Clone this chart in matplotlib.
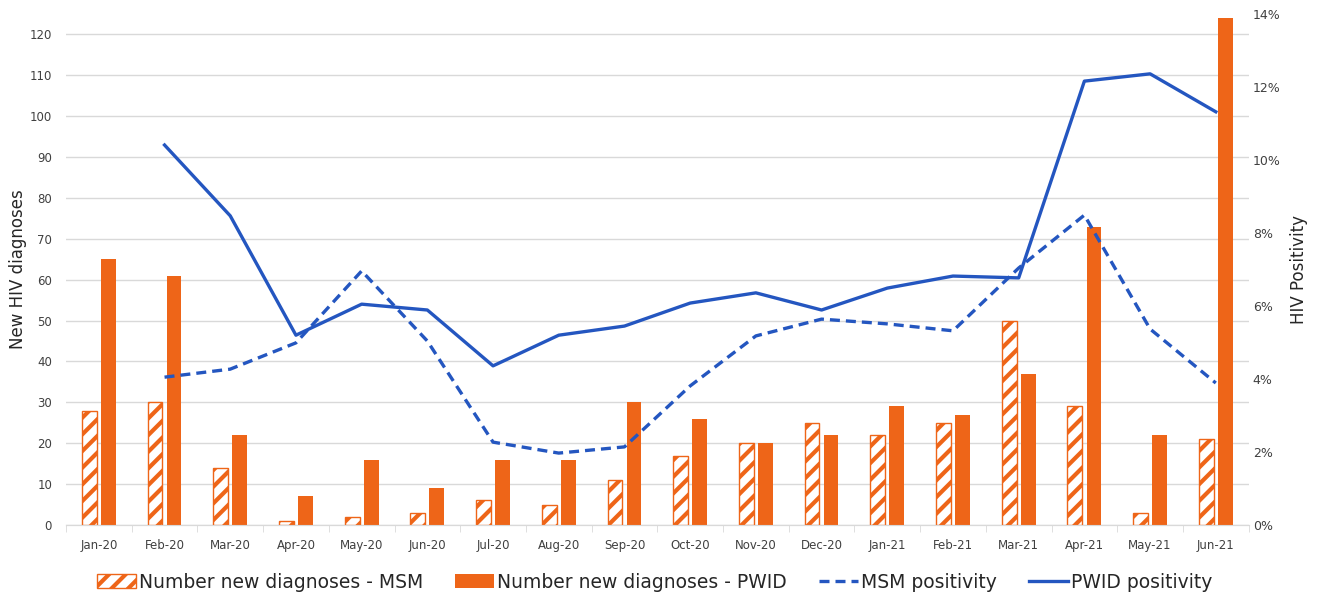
import matplotlib
matplotlib.use("Agg")
import matplotlib.pyplot as plt
import numpy as np
from matplotlib.ticker import FuncFormatter

months = ["Jan-20", "Feb-20", "Mar-20", "Apr-20", "May-20", "Jun-20", "Jul-20", "Aug-20", "Sep-20",
          "Oct-20", "Nov-20", "Dec-20", "Jan-21", "Feb-21", "Mar-21", "Apr-21", "May-21", "Jun-21"]
msm_new = [28, 30, 14, 1, 2, 3, 6, 5, 11, 17, 20, 25, 22, 25, 50, 29, 3, 21]
pwid_new = [65, 61, 22, 7, 16, 9, 16, 16, 30, 26, 20, 22, 29, 27, 37, 73, 22, 124]
msm_pos = [np.nan, 4.05, 4.27, 4.99, 6.96, 5.04, 2.27, 1.97, 2.14, 3.81, 5.18, 5.64, 5.51, 5.32, 7.04, 8.49, 5.37, 3.89]
pwid_pos = [np.nan, 10.41, 8.47, 5.20, 6.05, 5.89, 4.36, 5.20, 5.45, 6.08, 6.36, 5.89, 6.49, 6.82, 6.77, 12.16, 12.36, 11.32]

ORANGE = "#EE6518"
BLUE = "#2456C0"
GRID = "#D9D9D9"
TXT = "#404040"

plt.rcParams['hatch.linewidth'] = 3.0
plt.rcParams['hatch.color'] = ORANGE

fig = plt.figure(figsize=(13.17, 5.97), dpi=100)
ax = fig.add_axes([0.0501, 0.1206, 0.898, 0.856])
ax2 = ax.twinx()

x = np.arange(len(months))
w = 0.225
off = 0.145
ax.bar(x - off, msm_new, width=w, facecolor="white", edgecolor=ORANGE, hatch="//", linewidth=1.0,
       label="Number new diagnoses - MSM", zorder=3)
ax.bar(x + off, pwid_new, width=w, color=ORANGE, label="Number new diagnoses - PWID", zorder=3)

ax2.plot(x, msm_pos, color=BLUE, lw=2.4, ls=(0, (3.0, 1.8)), label="MSM positivity")
ax2.plot(x, pwid_pos, color=BLUE, lw=2.4, label="PWID positivity")

ax.set_xlim(-0.5, len(months) - 0.5)
ax.set_ylim(0, 125)
ax.set_yticks(np.arange(0, 121, 10))
ax2.set_ylim(0, 14)
ax2.set_yticks(np.arange(0, 15, 2))
ax2.yaxis.set_major_formatter(FuncFormatter(lambda v, p: f"{v:.0f}%"))

ax.grid(axis="y", color=GRID, lw=1.0, zorder=0)
ax.set_axisbelow(True)

ax.set_xticks(x)
ax.set_xticklabels(months)
ax.set_xticks(np.arange(-0.5, len(months), 1), minor=True)
ax.tick_params(axis="x", which="major", length=0, pad=10, labelsize=8.5, labelcolor=TXT)
ax.tick_params(axis="x", which="minor", length=5, color=GRID)
ax.tick_params(axis="y", length=0, pad=10, labelsize=8.5, labelcolor=TXT)
ax2.tick_params(axis="y", length=0, pad=3, labelsize=9, labelcolor=TXT)

for a in (ax, ax2):
    for s in ("top", "left", "right"):
        a.spines[s].set_visible(False)
    a.spines["bottom"].set_color(GRID)

ax.set_ylabel("New HIV diagnoses", fontsize=12, color="#262626")
ax.yaxis.set_label_coords(-0.033, 0.5)
ax2.set_ylabel("HIV Positivity", fontsize=12, color="#262626")
ax2.yaxis.set_label_coords(1.0346, 0.5)

h1, l1 = ax.get_legend_handles_labels()
h2, l2 = ax2.get_legend_handles_labels()
leg = fig.legend(h1 + h2, l1 + l2, loc="center", bbox_to_anchor=(0.497, 0.025), ncol=4, frameon=False,
                 prop={"size": 13.5}, handlelength=2.1, handletextpad=0.15, columnspacing=1.7)
for t in leg.get_texts():
    t.set_color("#262626")

fig.savefig("out.png", dpi=100)
